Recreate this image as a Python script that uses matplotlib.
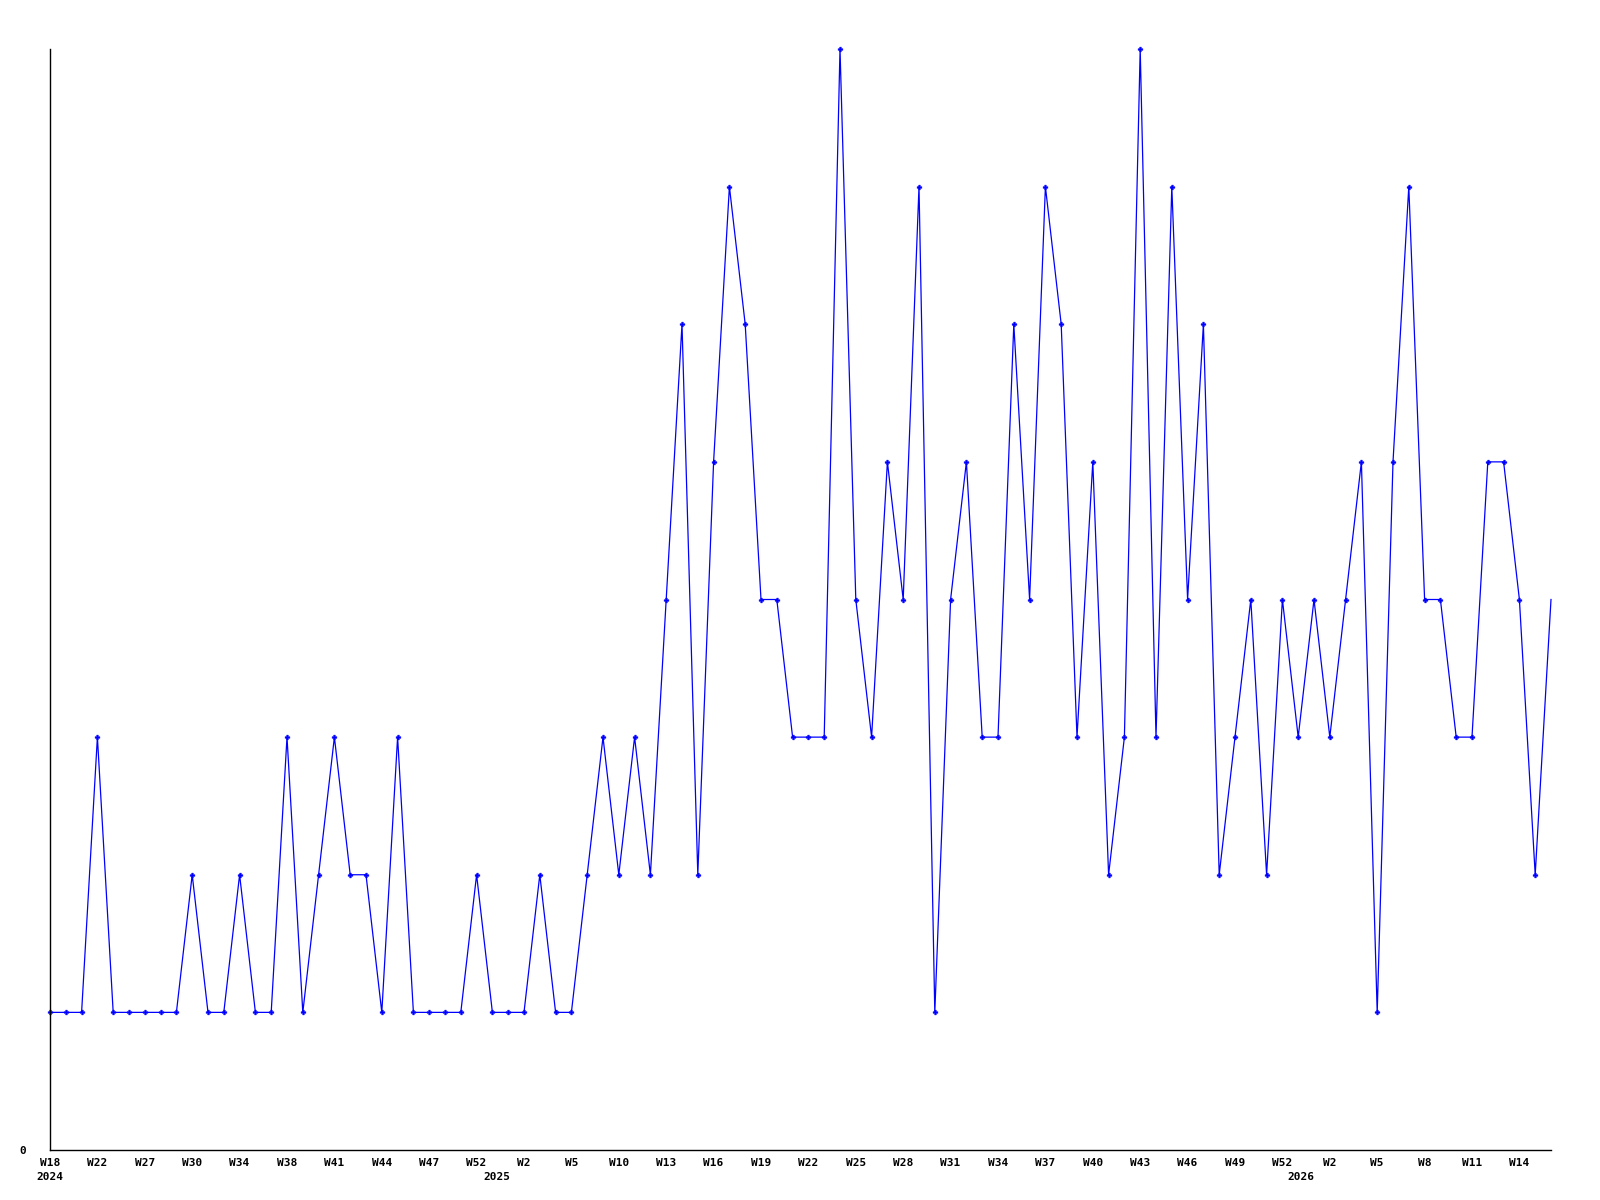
import matplotlib
matplotlib.use("Agg")
import matplotlib.pyplot as plt

# weekly counts, one per point, left to right
counts = [
    1, 1, 1, 3, 1, 1, 1, 1, 1, 2,
    1, 1, 2, 1, 1, 3, 1, 2, 3, 2,
    2, 1, 3, 1, 1, 1, 1, 2, 1, 1,
    1, 2, 1, 1, 2, 3, 2, 3, 2, 4,
    6, 2, 5, 7, 6, 4, 4, 3, 3, 3,
    8, 4, 3, 5, 4, 7, 1, 4, 5, 3,
    3, 6, 4, 7, 6, 3, 5, 2, 3, 8,
    3, 7, 4, 6, 2, 3, 4, 2, 4, 3,
    4, 3, 4, 5, 1, 5, 7, 4, 4, 3,
    3, 5, 5, 4, 2, 4,
]

week_labels = [
    "W18", "W22", "W27", "W30", "W34", "W38", "W41", "W44", "W47", "W52",
    "W2", "W5", "W10", "W13", "W16", "W19", "W22", "W25", "W28", "W31",
    "W34", "W37", "W40", "W43", "W46", "W49", "W52", "W2", "W5", "W8",
    "W11", "W14",
]
week_ticks = list(range(0, 96, 3))

years = ["2024", "2025", "2026"]
year_pos = [0, 28.3, 79.2]

BLUE = "#0000ff"
FONT = dict(family="DejaVu Sans Mono", fontweight="bold", fontsize=8)

fig = plt.figure(figsize=(16, 12), dpi=100)
ax = fig.add_axes([50 / 1600, 1 - 1150 / 1200, 1501 / 1600, 1101 / 1200])

x = list(range(len(counts)))
ax.plot(x, counts, color=BLUE, linewidth=0.9, marker="P", markersize=3.5,
        markeredgewidth=0.3, markevery=slice(0, len(counts) - 1), clip_on=False)

ax.set_xlim(0, len(counts) - 1)
ax.set_ylim(0, max(counts))

ax.spines["top"].set_visible(False)
ax.spines["right"].set_visible(False)
for s in ("left", "bottom"):
    ax.spines[s].set_linewidth(1.0)
    ax.spines[s].set_color("black")

ax.set_yticks([0])
ax.set_yticklabels(["0"], **FONT)
ax.tick_params(axis="y", length=0, pad=17)

ax.set_xticks(week_ticks)
ax.set_xticklabels(week_labels, **FONT)
ax.tick_params(axis="x", length=0, pad=6)

for yr, pos in zip(years, year_pos):
    ax.text(pos, -0.0245, yr, transform=ax.get_xaxis_transform(),
            ha="center", va="center", **FONT)

fig.savefig("out.png", dpi=100)
